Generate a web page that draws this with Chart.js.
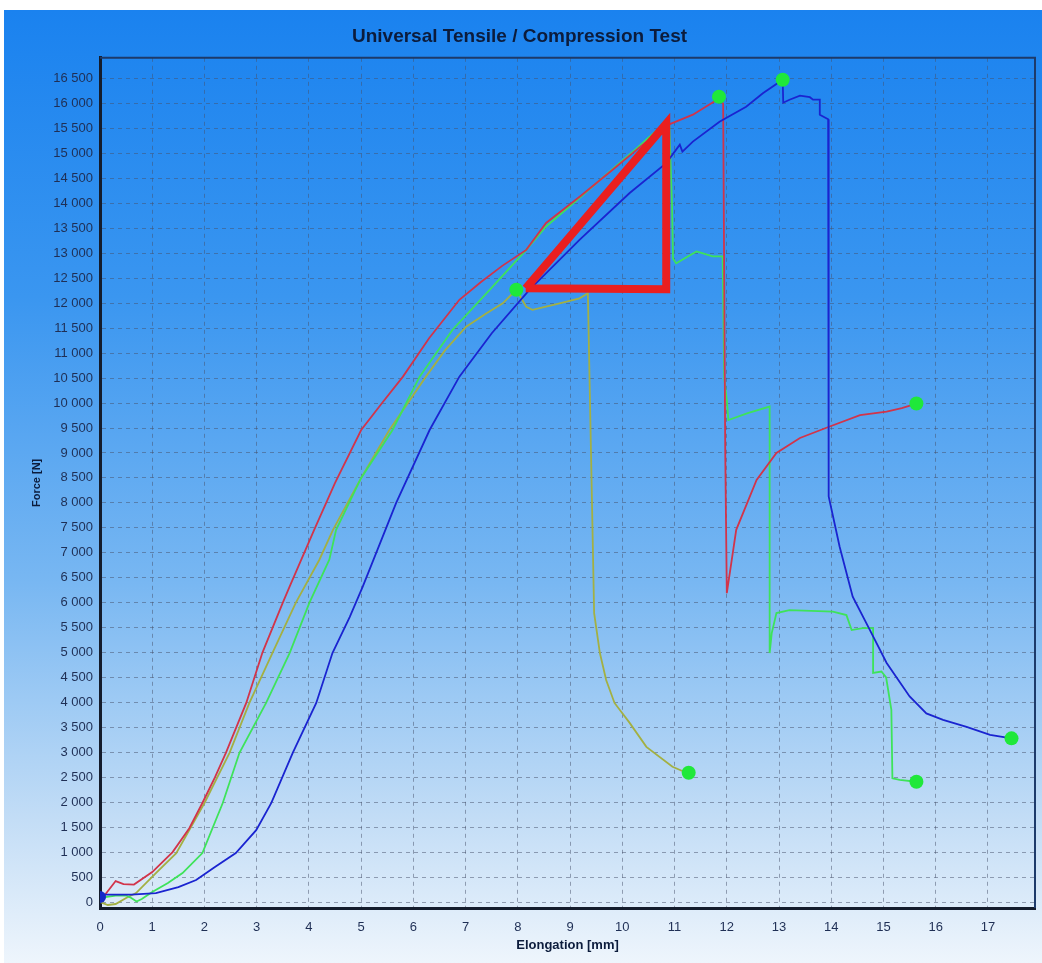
<!DOCTYPE html>
<html>
<head>
<meta charset="utf-8">
<script src="https://cdn.jsdelivr.net/npm/chart.js@4.4.1/dist/chart.umd.min.js"></script>
<style>
    html, body { margin: 0; padding: 0; background: #fff; }
    #chartContainer {
        position: absolute;
        left: 4px;
        top: 10px;
        width: 1038px;
        height: 953px;
        background: linear-gradient(to bottom, #1a82ef 0%, #3a96f0 30%, #78b7f2 60%, #c3ddf6 85%, #eef5fc 100%);
    }
</style>
</head>
<body>
<div id="chartContainer"><canvas id="tensileChart" width="1038" height="953"></canvas></div>
<script>
// Force [N] vs elongation [mm]
const redCurve = [
    [0, 0], [0.1, 150], [0.3, 420], [0.45, 360], [0.65, 350], [1.0, 600], [1.39, 1000], [1.71, 1480],
    [1.96, 1985], [2.2, 2500], [2.41, 2990], [2.8, 3990], [3.11, 5000], [3.5, 6000], [3.63, 6320],
    [4.1, 7460], [4.5, 8400], [5.0, 9460], [5.4, 10000], [5.8, 10530], [6.3, 11300], [6.88, 12070],
    [7.3, 12430], [7.7, 12750], [8.16, 13070], [8.54, 13610], [9.2, 14150], [9.82, 14680],
    [10.3, 15100], [10.84, 15560], [11.35, 15780], [11.86, 16110], [11.93, 16000], [11.97, 9000],
    [12.0, 6190], [12.18, 7460], [12.57, 8460], [12.95, 9000], [13.4, 9300], [13.97, 9530],
    [14.55, 9760], [15.06, 9830], [15.35, 9900], [15.63, 9990]
];
const oliveCurve = [
    [0, 0], [0.15, -60], [0.3, -40], [0.5, 80], [0.69, 180], [1.07, 580], [1.46, 980], [2.0, 1985],
    [2.48, 2990], [2.86, 3990], [3.3, 4990], [3.75, 6000], [4.2, 6860], [4.46, 7460], [5.0, 8500],
    [5.54, 9460], [6.24, 10530], [6.6, 11050], [7.01, 11530], [7.4, 11800], [7.71, 12000], [7.97, 12270],
    [8.16, 11930], [8.28, 11870], [8.8, 12000], [9.18, 12100], [9.34, 12200], [9.4, 9000], [9.46, 5790],
    [9.57, 4990], [9.69, 4450], [9.85, 3990], [10.14, 3590], [10.46, 3110], [10.96, 2710], [11.25, 2580]
];
const greenCurve = [
    [0, 0], [0.1, 100], [0.3, 130], [0.5, 130], [0.6, 80], [0.7, 10], [0.8, 60], [1.0, 200], [1.3, 380],
    [1.58, 580], [1.96, 980], [2.35, 1985], [2.67, 2990], [3.18, 3990], [3.63, 4990], [4.01, 6000],
    [4.39, 6860], [4.52, 7460], [5.0, 8500], [5.6, 9460], [6.12, 10530], [6.75, 11470], [7.46, 12270],
    [8.16, 13070], [8.54, 13540], [9.2, 14130], [9.82, 14700], [10.3, 15130], [10.8, 15600],
    [10.9, 15550], [10.95, 14000], [10.97, 12900], [11.03, 12800], [11.42, 13040], [11.73, 12940],
    [11.92, 12940], [11.95, 10500], [12.0, 10060], [12.03, 9660], [12.4, 9800], [12.82, 9930],
    [12.82, 4990], [12.86, 5390], [12.95, 5790], [13.2, 5850], [14.03, 5820], [14.29, 5750],
    [14.39, 5450], [14.6, 5490], [14.8, 5490], [14.8, 4590], [14.96, 4620], [15.05, 4500],
    [15.15, 3850], [15.17, 2480], [15.31, 2450], [15.63, 2410]
];
const blueCurve = [
    [0, 100], [0.05, 150], [0.3, 150], [0.6, 150], [1.07, 180], [1.5, 300], [1.84, 440], [2.2, 700],
    [2.6, 980], [2.99, 1440], [3.28, 1985], [3.69, 2990], [4.14, 3990], [4.45, 4990], [4.78, 5710],
    [5.03, 6320], [5.67, 8000], [6.31, 9460], [6.88, 10530], [7.5, 11400], [8.22, 12270], [9.18, 13270],
    [10.14, 14210], [10.84, 14810], [11.1, 15180], [11.15, 15040], [11.35, 15240], [11.86, 15640],
    [12.37, 15940], [12.69, 16210], [13.07, 16480], [13.08, 16020], [13.2, 16080], [13.4, 16160],
    [13.59, 16130], [13.65, 16080], [13.78, 16080], [13.78, 15780], [13.94, 15690], [13.95, 8130],
    [14.16, 7120], [14.41, 6120], [14.74, 5450], [15.06, 4790], [15.5, 4120], [15.82, 3780],
    [16.14, 3650], [16.59, 3510], [17.04, 3350], [17.45, 3280]
];
const markerPoints = [
    [7.97, 12270], [11.85, 16140], [13.07, 16480], [15.63, 9990], [11.27, 2590], [15.63, 2410], [17.45, 3280]
];
const originMarker = [[0, 100]];
const triangle = [[8.15, 12300], [10.84, 15600], [10.84, 12280], [8.15, 12300]];

const xTicks = [0, 1, 2, 3, 4, 5, 6, 7, 8, 9, 10, 11, 12, 13, 14, 15, 16, 17];
const yTicks = [
    0, 500, 1000, 1500, 2000, 2500, 3000, 3500, 4000, 4500, 5000, 5500, 6000, 6500, 7000, 7500, 8000,
    8500, 9000, 9500, 10000, 10500, 11000, 11500, 12000, 12500, 13000, 13500, 14000, 14500, 15000,
    15500, 16000, 16500
];

const toXY = (arr) => arr.map(p => ({ x: p[0], y: p[1] }));
const fmtThousands = (v) => String(v).replace(/\B(?=(\d{3})+(?!\d))/g, ' ');

const FONT = "'Liberation Sans', Arial, sans-serif";

// top + right frame lines of the plot area
const frame = {
    id: 'frame',
    beforeDatasetsDraw(chart) {
        const { ctx, chartArea: a } = chart;
        ctx.save();
        ctx.strokeStyle = '#1d3a6a';
        ctx.lineWidth = 2;
        ctx.beginPath();
        ctx.moveTo(a.left, a.top);
        ctx.lineTo(a.right, a.top);
        ctx.lineTo(a.right, a.bottom);
        ctx.stroke();
        ctx.restore();
    }
};

function line(data, color, width) {
    return {
        data: toXY(data),
        borderColor: color,
        borderWidth: width,
        pointRadius: 0,
        tension: 0,
        fill: false
    };
}

const canvas = document.getElementById('tensileChart');
new Chart(canvas, {
    type: 'line',
    data: {
        datasets: [
            {
                data: toXY(markerPoints),
                showLine: false,
                pointRadius: 7,
                pointBackgroundColor: '#1fe83a',
                pointBorderWidth: 0
            },
            {
                data: toXY(originMarker),
                showLine: false,
                pointRadius: 6,
                pointBackgroundColor: '#1428c8',
                pointBorderWidth: 0
            },
            Object.assign(line(triangle, '#ea1f1f', 8), { borderJoinStyle: 'miter' }),
            line(blueCurve, '#1a24d0', 1.8),
            line(redCurve, '#d2344a', 1.8),
            line(greenCurve, '#3ee35a', 1.8),
            line(oliveCurve, '#a3b043', 1.8)
        ]
    },
    options: {
        responsive: false,
        animation: false,
        layout: { padding: { left: 0, right: 7, top: 0, bottom: 0 } },
        plugins: {
            legend: { display: false },
            tooltip: { enabled: false },
            title: {
                display: true,
                text: 'Universal Tensile / Compression Test',
                color: '#0c1c3c',
                font: { family: FONT, size: 19, weight: 'bold' },
                padding: { top: 15, bottom: 10 }
            }
        },
        scales: {
            x: {
                type: 'linear',
                min: 0,
                max: 17.9,
                afterFit: (scale) => { scale.height = 55; },
                afterBuildTicks: (scale) => { scale.ticks = xTicks.map(v => ({ value: v })); },
                border: { color: '#141c2c', width: 3, dash: [4, 4] },
                grid: { color: 'rgba(70,80,105,0.5)', lineWidth: 1, drawTicks: false },
                ticks: {
                    padding: 12,
                    color: '#1f2f55',
                    font: { family: FONT, size: 13 }
                },
                title: {
                    display: true,
                    text: 'Elongation [mm]',
                    color: '#0c1c3c',
                    font: { family: FONT, size: 13, weight: 'bold' },
                    padding: { top: 0, bottom: 10 }
                }
            },
            y: {
                min: -120,
                max: 16920,
                afterFit: (scale) => { scale.width = 96; },
                afterBuildTicks: (scale) => { scale.ticks = yTicks.map(v => ({ value: v })); },
                border: { color: '#141c2c', width: 3, dash: [4, 4] },
                grid: { color: 'rgba(70,80,105,0.5)', lineWidth: 1, drawTicks: false },
                ticks: {
                    padding: 7,
                    color: '#1f2f55',
                    font: { family: FONT, size: 13 },
                    callback: (value) => fmtThousands(value)
                },
                title: {
                    display: true,
                    text: 'Force [N]',
                    color: '#0c1c3c',
                    font: { family: FONT, size: 11, weight: 'bold' },
                    padding: { top: 26, bottom: 0 }
                }
            }
        }
    },
    plugins: [frame]
});
</script>
</body>
</html>
